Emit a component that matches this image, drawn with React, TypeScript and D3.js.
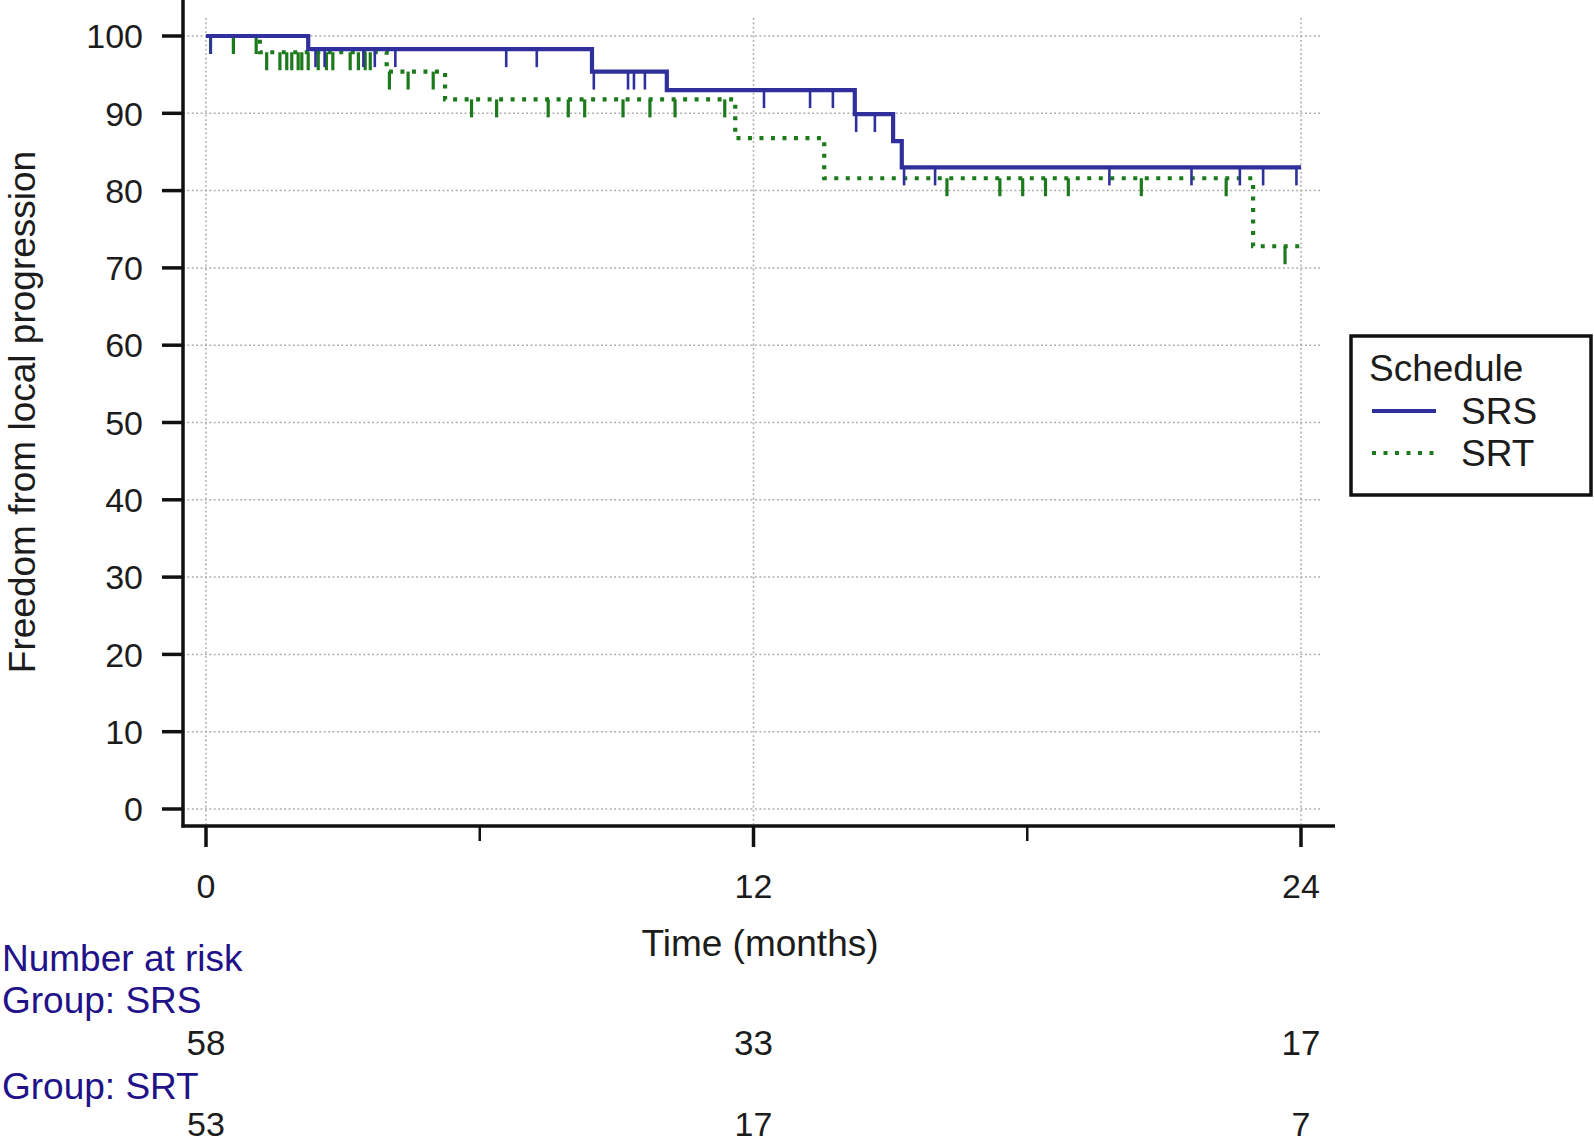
import React from "react";
import * as d3 from "d3";

// ---- Data ----
const yTicks = [0, 10, 20, 30, 40, 50, 60, 70, 80, 90, 100];
const xMajorTicks = [0, 12, 24];
const xMinorTicks = [6, 18];

// SRS: event times (months) and survival after each event (%)
const srsEventTimes = [2.24, 8.46, 10.1, 14.22, 15.06, 15.25];
const srsEventSurv = [98.3, 95.4, 93.0, 89.9, 86.4, 83.0];
const srsCensorTimes = [0.1, 2.4, 2.6, 3.45, 3.7, 4.15, 6.58, 7.25, 8.5, 9.25, 9.38, 9.62, 12.23, 13.24, 13.74, 14.25, 14.66, 15.3, 15.98, 19.8, 21.6, 22.66, 23.17, 23.9];

// SRT
const srtEventTimes = [1.18, 3.96, 5.24, 11.6, 13.55, 22.95];
const srtEventSurv = [97.9, 95.4, 91.8, 86.8, 81.6, 72.8];
const srtCensorTimes = [0.1, 0.6, 1.1, 1.33, 1.62, 1.77, 1.88, 2.02, 2.1, 2.24, 2.46, 2.64, 2.78, 3.16, 3.34, 3.49, 3.6, 4.02, 4.43, 4.98, 5.82, 6.37, 7.5, 7.94, 8.3, 9.14, 9.73, 10.28, 11.37, 16.24, 17.4, 17.9, 18.4, 18.9, 20.5, 22.36, 23.65];

const riskTimes = [0, 12, 24];
const srsAtRisk = [58, 33, 17];
const srtAtRisk = [53, 17, 7];

const maxTime = 24;

const BLUE = "#30309c";
const GREEN = "#1c7a1c";
const NAVY = "#22128a";
const TXT = "#1c1c1c";
const FONT = "'Liberation Sans', Arial, sans-serif";

function stepPoints(times: number[], surv: number[]): [number, number][] {
  const pts: [number, number][] = [[0, 100]];
  let cur = 100;
  times.forEach((t, i) => {
    pts.push([t, cur]);
    cur = surv[i];
    pts.push([t, cur]);
  });
  pts.push([maxTime, cur]);
  return pts;
}

function levelAt(times: number[], surv: number[], t: number) {
  let cur = 100;
  times.forEach((et, i) => {
    if (t >= et) cur = surv[i];
  });
  return cur;
}

export default function App() {
  const x = d3.scaleLinear().domain([0, 24]).range([206, 1301]);
  const y = d3.scaleLinear().domain([0, 100]).range([809, 36]);
  const line = d3
    .line<[number, number]>()
    .x((d) => x(d[0]))
    .y((d) => y(d[1]));

  const srsPath = line(stepPoints(srsEventTimes, srsEventSurv)) || "";
  const srtPath = line(stepPoints(srtEventTimes, srtEventSurv)) || "";

  const axisX = 183;
  const axisY = 826;

  return (
    <svg
      width={1594}
      height={1143}
      style={{ position: "absolute", left: 0, top: 0, background: "#fff" }}
      fontFamily={FONT}
    >
      {/* grid */}
      {yTicks.map((t) => (
        <line key={"gy" + t} x1={axisX} x2={1320} y1={y(t)} y2={y(t)} stroke="#a8a8a8" strokeWidth={1.5} strokeDasharray="1.8 2.6" />
      ))}
      {xMajorTicks.map((t) => (
        <line key={"gx" + t} x1={x(t)} x2={x(t)} y1={18} y2={axisY - 2} stroke="#a8a8a8" strokeWidth={1.5} strokeDasharray="1.8 2.6" />
      ))}

      {/* axes */}
      <line x1={axisX} x2={axisX} y1={0} y2={axisY + 1.5} stroke="#111" strokeWidth={3.5} />
      <line x1={axisX - 1.5} x2={1335} y1={axisY} y2={axisY} stroke="#111" strokeWidth={3.5} />
      {yTicks.map((t) => (
        <g key={"yt" + t}>
          <line x1={162} x2={axisX} y1={y(t)} y2={y(t)} stroke="#111" strokeWidth={3.5} />
          <text x={143} y={y(t)} dy="0.36em" textAnchor="end" fontSize={34} fill={TXT}>
            {t}
          </text>
        </g>
      ))}
      {xMajorTicks.map((t) => (
        <g key={"xt" + t}>
          <line x1={x(t)} x2={x(t)} y1={axisY} y2={847} stroke="#111" strokeWidth={3.5} />
          <text x={x(t)} y={886} dy="0.36em" textAnchor="middle" fontSize={34} fill={TXT}>
            {t}
          </text>
        </g>
      ))}
      {xMinorTicks.map((t) => (
        <line key={"xm" + t} x1={x(t)} x2={x(t)} y1={axisY} y2={841} stroke="#111" strokeWidth={2.5} />
      ))}

      {/* axis titles */}
      <text x={760} y={943} dy="0.36em" textAnchor="middle" fontSize={37} fill={TXT}>
        Time (months)
      </text>
      <text
        transform={`translate(22,412) rotate(-90)`}
        dy="0.36em"
        textAnchor="middle"
        fontSize={37}
        fill={TXT}
      >
        Freedom from local progression
      </text>

      {/* curves */}
      <path d={srtPath} fill="none" stroke={GREEN} strokeWidth={4.2} strokeDasharray="4 7.5" />
      {srtCensorTimes.map((t, i) => {
        const v = levelAt(srtEventTimes, srtEventSurv, t);
        return <line key={"sc" + i} x1={x(t)} x2={x(t)} y1={y(v)} y2={y(v) + 18} stroke={GREEN} strokeWidth={3.2} />;
      })}
      <path d={srsPath} fill="none" stroke={BLUE} strokeWidth={4.2} />
      {srsCensorTimes.map((t, i) => {
        const v = levelAt(srsEventTimes, srsEventSurv, t);
        return <line key={"bc" + i} x1={x(t)} x2={x(t)} y1={y(v)} y2={y(v) + 18} stroke={BLUE} strokeWidth={2.6} />;
      })}

      {/* legend */}
      <rect x={1351} y={336} width={240} height={159} fill="#fff" stroke="#111" strokeWidth={3.5} />
      <text x={1369} y={368} dy="0.36em" fontSize={37} fill={TXT}>
        Schedule
      </text>
      <line x1={1372} x2={1436} y1={411} y2={411} stroke={BLUE} strokeWidth={4.2} />
      <text x={1461} y={411} dy="0.36em" fontSize={37} fill={TXT}>
        SRS
      </text>
      <line x1={1372} x2={1436} y1={453} y2={453} stroke={GREEN} strokeWidth={4.2} strokeDasharray="4 7.5" />
      <text x={1461} y={453} dy="0.36em" fontSize={37} fill={TXT}>
        SRT
      </text>

      {/* number at risk */}
      <text x={2} y={958} dy="0.36em" fontSize={37} fill={NAVY}>
        Number at risk
      </text>
      <text x={2} y={1000} dy="0.36em" fontSize={37} fill={NAVY}>
        Group: SRS
      </text>
      {riskTimes.map((t, i) => (
        <text key={"r1" + t} x={x(t)} y={1042} dy="0.36em" textAnchor="middle" fontSize={35} fill={TXT}>
          {srsAtRisk[i]}
        </text>
      ))}
      <text x={2} y={1086} dy="0.36em" fontSize={37} fill={NAVY}>
        Group: SRT
      </text>
      {riskTimes.map((t, i) => (
        <text key={"r2" + t} x={x(t)} y={1124} dy="0.36em" textAnchor="middle" fontSize={34} fill={TXT}>
          {srtAtRisk[i]}
        </text>
      ))}
    </svg>
  );
}
